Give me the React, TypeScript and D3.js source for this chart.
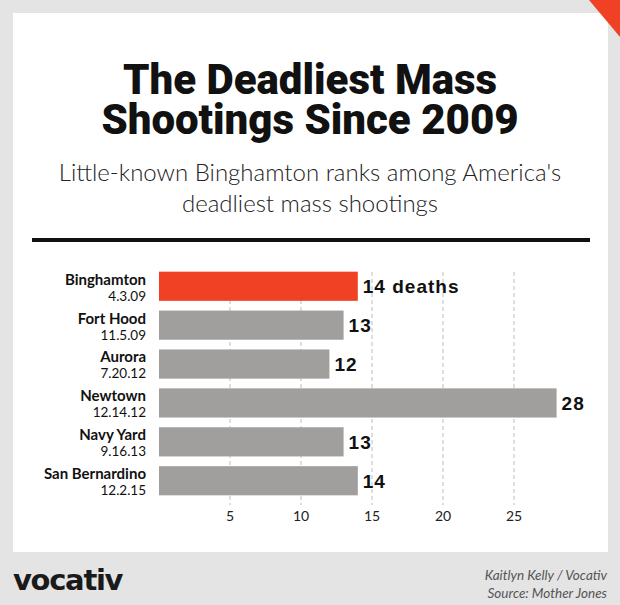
import React, { useRef, useEffect } from 'react';
import * as d3 from 'd3';

const places = ["Binghamton", "Fort Hood", "Aurora", "Newtown", "Navy Yard", "San Bernardino"];
const dates = ["4.3.09", "11.5.09", "7.20.12", "12.14.12", "9.16.13", "12.2.15"];
const deaths = [14, 13, 12, 28, 13, 14];
const ticks = [5, 10, 15, 20, 25];

const App: React.FC = () => {
  const svgRef = useRef<SVGSVGElement | null>(null);

  useEffect(() => {
    const svg = d3.select(svgRef.current);
    svg.selectAll("*").remove();

    const width = 620;
    const height = 605;

    svg.attr("width", width).attr("height", height);

    // frame + panel
    svg.append("rect").attr("width", width).attr("height", height).attr("fill", "#e4e4e4");
    svg.append("rect").attr("x", 13).attr("y", 13).attr("width", 595).attr("height", 539).attr("fill", "#fff");
    svg.append("path").attr("d", "M589,0 L620,0 L620,37 Z").attr("fill", "#f04124");

    // title
    const title = svg.append("text")
      .attr("text-anchor", "middle")
      .attr("font-family", "Roboto, sans-serif")
      .attr("font-weight", 900)
      .attr("font-size", 42)
      .attr("fill", "#111");
    title.append("tspan").attr("x", 310).attr("y", 94).text("The Deadliest Mass");
    title.append("tspan").attr("x", 310).attr("y", 134).text("Shootings Since 2009");

    const sub = svg.append("text")
      .attr("text-anchor", "middle")
      .attr("font-family", "Lato, sans-serif")
      .attr("font-weight", 300)
      .attr("font-size", 24)
      .attr("fill", "#222");
    sub.append("tspan").attr("x", 310).attr("y", 181).text("Little-known Binghamton ranks among America's");
    sub.append("tspan").attr("x", 310).attr("y", 212).text("deadliest mass shootings");

    svg.append("rect").attr("x", 32).attr("y", 238).attr("width", 558).attr("height", 4).attr("fill", "#111");

    // chart
    const x = d3.scaleLinear().domain([0, 5]).range([159, 230]);
    const y = d3.scaleBand<string>().domain(places).range([267, 500]).paddingInner(0.25).paddingOuter(0.12);

    svg.append("g")
      .selectAll("line")
      .data(ticks)
      .join("line")
      .attr("x1", d => x(d))
      .attr("x2", d => x(d))
      .attr("y1", 272)
      .attr("y2", 505)
      .attr("stroke", "#bdbdbd")
      .attr("stroke-width", 1)
      .attr("stroke-dasharray", "4,3");

    svg.append("g")
      .selectAll("text")
      .data(ticks)
      .join("text")
      .attr("x", d => x(d))
      .attr("y", 521)
      .attr("text-anchor", "middle")
      .attr("font-family", "Lato, sans-serif")
      .attr("font-size", 14)
      .attr("fill", "#222")
      .text(d => d);

    const rows = places.map((p, i) => ({ place: p, date: dates[i], value: deaths[i], i }));

    svg.append("g")
      .selectAll("rect")
      .data(rows)
      .join("rect")
      .attr("x", x(0))
      .attr("y", d => y(d.place)!)
      .attr("width", d => x(d.value) - x(0))
      .attr("height", y.bandwidth())
      .attr("fill", d => d.i === 0 ? "#f04124" : "#a09f9d");

    svg.append("g")
      .selectAll("text")
      .data(rows)
      .join("text")
      .attr("x", d => x(d.value) + 5)
      .attr("y", d => y(d.place)! + y.bandwidth() / 2 + 7)
      .attr("font-family", "'Liberation Sans', Arial, sans-serif")
      .attr("font-weight", 700)
      .attr("font-size", 19)
      .attr("letter-spacing", 1)
      .attr("fill", "#111")
      .text(d => d.i === 0 ? `${d.value} deaths` : `${d.value}`);

    const labels = svg.append("g")
      .selectAll("text")
      .data(rows)
      .join("text")
      .attr("text-anchor", "end")
      .attr("font-family", "Lato, sans-serif")
      .attr("fill", "#111");
    labels.append("tspan")
      .attr("x", 146)
      .attr("y", d => y(d.place)! + 13)
      .attr("font-weight", 700)
      .attr("font-size", 15)
      .text(d => d.place);
    labels.append("tspan")
      .attr("x", 146)
      .attr("y", d => y(d.place)! + 29)
      .attr("font-size", 13.5)
      .text(d => d.date);

    // footer
    svg.append("text")
      .attr("x", 13)
      .attr("y", 590)
      .attr("font-family", "'DejaVu Sans', sans-serif")
      .attr("font-weight", 700)
      .attr("font-size", 29)
      .attr("letter-spacing", -1.3)
      .attr("fill", "#1a1a1a")
      .text("vocativ");

    const credit = svg.append("text")
      .attr("text-anchor", "end")
      .attr("font-family", "Lato, sans-serif")
      .attr("font-style", "italic")
      .attr("font-size", 13.5)
      .attr("fill", "#555");
    credit.append("tspan").attr("x", 607).attr("y", 580).text("Kaitlyn Kelly / Vocativ");
    credit.append("tspan").attr("x", 607).attr("y", 598).text("Source: Mother Jones");
  }, []);

  return <svg ref={svgRef} style={{ position: 'absolute', left: 0, top: 0 }}></svg>;
};

export default App;
